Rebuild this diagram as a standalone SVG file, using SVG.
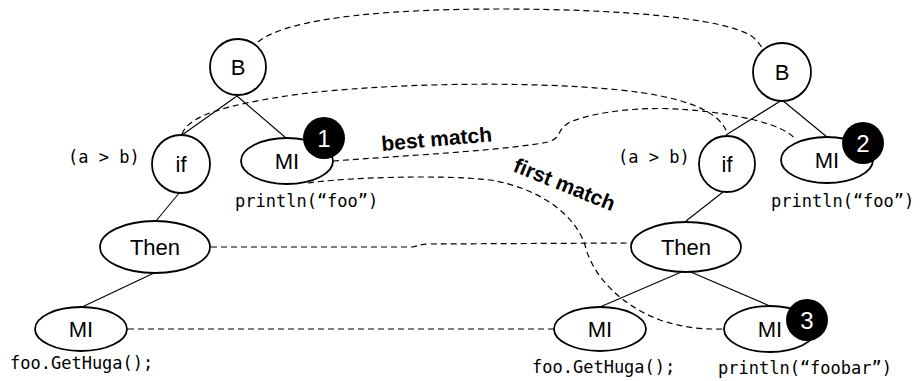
<svg xmlns="http://www.w3.org/2000/svg" width="921" height="381" viewBox="0 0 921 381">
<style>
.n{fill:#fff;stroke:#000;stroke-width:1.8}
.t{font-family:"Liberation Sans",Arial,sans-serif;font-size:22px;text-anchor:middle;fill:#000}
.code{font-family:"DejaVu Sans Mono","Liberation Mono",monospace;font-size:17px;fill:#000}
.badge{fill:#000}
.bt{font-family:"Liberation Sans",Arial,sans-serif;font-size:24px;text-anchor:middle;fill:#fff}
.e{stroke:#000;stroke-width:1.1;fill:none}
.d{stroke:#000;stroke-width:1.2;fill:none;stroke-dasharray:6,4}
.lbl{font-family:"Liberation Sans",Arial,sans-serif;font-size:21px;font-weight:bold;fill:#000}
</style>
<rect width="921" height="381" fill="#fff"/>
<g id="connectors">
<line class="e" x1="237" y1="96" x2="182" y2="135"/>
<line class="e" x1="237" y1="96" x2="286" y2="138"/>
<line class="e" x1="180" y1="192" x2="156" y2="221"/>
<line class="e" x1="154" y1="273" x2="82" y2="307"/>
<line class="e" x1="782" y1="100" x2="726" y2="135"/>
<line class="e" x1="782" y1="100" x2="827" y2="137"/>
<line class="e" x1="723" y1="192" x2="686" y2="221"/>
<line class="e" x1="686" y1="270" x2="600" y2="307"/>
<line class="e" x1="686" y1="270" x2="770" y2="306"/>
<path class="d" d="M258,42 C290,16 400,9 500,9 C620,9 720,18 750,35 C756,39 760,44 762,48"/>
<path class="d" d="M182,134 C188,118 215,106 300,94 C380,84 520,80 620,90 C680,96 720,110 727,133"/>
<path class="d" d="M333,161 C400,156 510,150 548,142 C562,138 556,130 570,122 C600,110 650,106 690,110 C740,114 785,125 795,139"/>
<path class="d" d="M308,183 C340,178 440,174 490,180 C540,188 575,215 585,245 C592,275 620,305 660,320 C690,330 710,329 725,329"/>
<path class="d" d="M211,247 L412,247 C418,246 420,244 430,244 L631,243"/>
<path class="d" d="M128,329 L554,329"/>
<text class="lbl" transform="translate(382,151) rotate(-5)">best match</text>
<text class="lbl" transform="translate(512,171) rotate(22)">first match</text>
</g>
<g id="B1"><circle class="n" cx="238" cy="67" r="28"/><text class="t" x="238" y="75">B</text></g>
<g id="if1"><circle class="n" cx="181" cy="164" r="29"/><text class="t" x="181" y="172">if</text><text class="code" x="68" y="163">(a &gt; b)</text></g>
<g id="MI1"><ellipse class="n" cx="287" cy="161" rx="46" ry="23"/><text class="t" x="287" y="169">MI</text><circle class="badge" cx="324" cy="138" r="21"/><text class="bt" x="324" y="147">1</text><text class="code" x="235" y="207">println(“foo”)</text></g>
<g id="Then1"><ellipse class="n" cx="155" cy="247" rx="55" ry="26"/><text class="t" x="155" y="255">Then</text></g>
<g id="MIa"><ellipse class="n" cx="81" cy="329" rx="46" ry="22"/><text class="t" x="81" y="337">MI</text><text class="code" x="10" y="369">foo.GetHuga();</text></g>
<g id="B2"><circle class="n" cx="782" cy="72" r="29"/><text class="t" x="782" y="80">B</text></g>
<g id="if2"><circle class="n" cx="727" cy="164" r="28"/><text class="t" x="727" y="172">if</text><text class="code" x="618" y="163">(a &gt; b)</text></g>
<g id="MI2"><ellipse class="n" cx="827" cy="160" rx="46" ry="23"/><text class="t" x="827" y="168">MI</text><circle class="badge" cx="863" cy="143" r="21"/><text class="bt" x="863" y="152">2</text><text class="code" x="771" y="207">println(“foo”)</text></g>
<g id="Then2"><ellipse class="n" cx="686" cy="247" rx="55" ry="25"/><text class="t" x="686" y="255">Then</text></g>
<g id="MIb"><ellipse class="n" cx="600" cy="329" rx="46" ry="22"/><text class="t" x="600" y="337">MI</text><text class="code" x="532" y="373">foo.GetHuga();</text></g>
<g id="MI3"><ellipse class="n" cx="770" cy="329" rx="46" ry="23"/><text class="t" x="770" y="337">MI</text><circle class="badge" cx="807" cy="320" r="21"/><text class="bt" x="807" y="329">3</text><text class="code" x="718" y="374">println(“foobar”)</text></g>
</svg>
